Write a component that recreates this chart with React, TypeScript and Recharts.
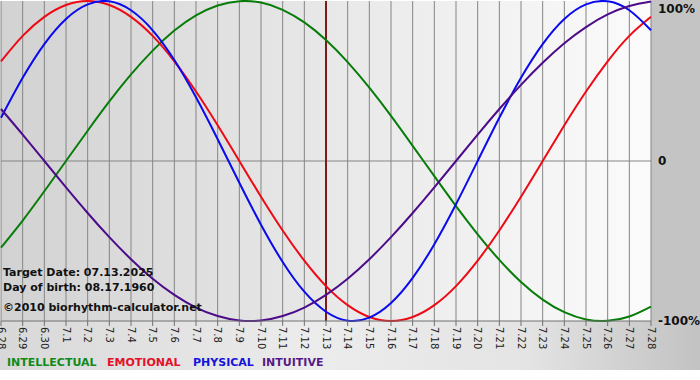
import { LineChart, Line, XAxis, YAxis, CartesianGrid, ReferenceLine } from "recharts";

const dayLabels = [
  "6.28", "6.29", "6.30", "7.1", "7.2", "7.3", "7.4", "7.5", "7.6", "7.7",
  "7.8", "7.9", "7.10", "7.11", "7.12", "7.13", "7.14", "7.15", "7.16", "7.17",
  "7.18", "7.19", "7.20", "7.21", "7.22", "7.23", "7.24", "7.25", "7.26", "7.27",
  "7.28",
];

const intellectual = [
  -0.541, -0.372, -0.189, 0, 0.189, 0.372, 0.541, 0.69, 0.815, 0.91,
  0.972, 0.999, 0.99, 0.945, 0.866, 0.756, 0.618, 0.458, 0.282, 0.095,
  -0.095, -0.282, -0.458, -0.618, -0.756, -0.866, -0.945, -0.99, -0.999, -0.972,
  -0.91,
];
const emotional = [
  0.623, 0.782, 0.901, 0.975, 1, 0.975, 0.901, 0.782, 0.623, 0.434,
  0.223, 0, -0.223, -0.434, -0.623, -0.782, -0.901, -0.975, -1, -0.975,
  -0.901, -0.782, -0.623, -0.434, -0.223, 0, 0.223, 0.434, 0.623, 0.782,
  0.901,
];
const physical = [
  0.27, 0.52, 0.731, 0.888, 0.979, 0.998, 0.942, 0.817, 0.631, 0.398,
  0.136, -0.136, -0.398, -0.631, -0.817, -0.942, -0.998, -0.979, -0.888, -0.731,
  -0.52, -0.27, 0, 0.27, 0.52, 0.731, 0.888, 0.979, 0.998, 0.942,
  0.817,
];
const intuitive = [
  0.325, 0.165, 0, -0.165, -0.325, -0.476, -0.614, -0.736, -0.837, -0.916,
  -0.969, -0.997, -0.997, -0.969, -0.916, -0.837, -0.736, -0.614, -0.476, -0.325,
  -0.165, 0, 0.165, 0.325, 0.476, 0.614, 0.736, 0.837, 0.916, 0.969,
  0.997,
];

const pctTicks = [-1, 0, 1];
const pctLabels: Record<string, string> = { "-1": "-100%", "0": "0", "1": "100%" };
const targetDay = 15;

const series = [
  { key: "intellectual", name: "INTELLECTUAL", color: "#087c08", text: "#108a18", x: 7 },
  { key: "emotional", name: "EMOTIONAL", color: "#ee0a14", text: "#e4102a", x: 107 },
  { key: "physical", name: "PHYSICAL", color: "#0a0aee", text: "#1414dc", x: 193 },
  { key: "intuitive", name: "INTUITIVE", color: "#4c0c8a", text: "#561a86", x: 262 },
];

const data = dayLabels.map((label, i) => ({
  i,
  label,
  intellectual: intellectual[i],
  emotional: emotional[i],
  physical: physical[i],
  intuitive: intuitive[i],
}));

const font = "'DejaVu Sans', Verdana, sans-serif";

function DayTick({ x, y, payload }: any) {
  return (
    <text
      x={x}
      y={y}
      dy="0.35em"
      transform={`rotate(90, ${x}, ${y})`}
      textAnchor="start"
      fontFamily={font}
      fontSize={10}
      fill="#222"
    >
      {dayLabels[payload.value]}
    </text>
  );
}

function PctTick({ x, y, payload }: any) {
  const ty = Math.min(Math.max(y, 7), 322);
  return (
    <text
      x={x}
      y={ty}
      dy="0.36em"
      textAnchor="start"
      fontFamily={font}
      fontWeight="bold"
      fontSize={12}
      fill="#111"
    >
      {pctLabels[String(payload.value)]}
    </text>
  );
}

export default function App() {
  return (
    <div style={{ position: "absolute", left: 0, top: 0, width: 700, height: 380, background: "#fff" }}>
      <div
        style={{
          position: "absolute",
          left: 0,
          top: 321,
          width: 700,
          height: 49,
          background: "linear-gradient(to right, #d8d8d8 0%, #ececec 45%, #e4e4e4 75%, #c2c2c2 100%)",
        }}
      />
      <div style={{ position: "absolute", left: 651, top: 0, width: 49, height: 321, background: "#c4c4c4" }} />
      <div style={{ position: "absolute", left: 0, top: 0 }}>
        <LineChart width={700} height={380} data={data} margin={{ top: 1, right: 0, bottom: 0, left: 1 }}>
          <defs>
            <linearGradient id="plotBg" x1="0" y1="0" x2="1" y2="0">
              <stop offset="0%" stopColor="#d2d2d2" />
              <stop offset="50%" stopColor="#e8e8e8" />
              <stop offset="100%" stopColor="#fbfbfb" />
            </linearGradient>
          </defs>
          <CartesianGrid horizontal={false} stroke="#858585" fill="url(#plotBg)" fillOpacity={1} />
          <XAxis
            dataKey="i"
            type="number"
            domain={[0, 30]}
            ticks={dayLabels.map((_, i) => i)}
            interval={0}
            height={59}
            tickSize={5}
            tickMargin={1}
            stroke="#707070"
            tick={<DayTick />}
          />
          <YAxis
            orientation="right"
            domain={[-1, 1]}
            ticks={pctTicks}
            width={49}
            axisLine={false}
            tickLine={false}
            tickSize={0}
            tickMargin={7}
            tick={<PctTick />}
          />
          <ReferenceLine y={0} stroke="#858585" />
          <ReferenceLine x={targetDay} stroke="#7e1a1a" strokeWidth={2} />
          {series.map((s) => (
            <Line
              key={s.key}
              dataKey={s.key}
              type="natural"
              stroke={s.color}
              strokeWidth={2}
              dot={false}
              activeDot={false}
              isAnimationActive={false}
            />
          ))}
        </LineChart>
      </div>
      <svg width={700} height={380} style={{ position: "absolute", left: 0, top: 0, pointerEvents: "none" }}>
        <g fontFamily={font} fontWeight="bold" fontSize={11} fill="#111">
          <text x={3} y={276}>Target Date: 07.13.2025</text>
          <text x={3} y={291}>Day of birth: 08.17.1960</text>
          <text x={3} y={311}>©2010 biorhythm-calculator.net</text>
        </g>
        <g fontFamily={font} fontWeight="bold" fontSize={11}>
          {series.map((s) => (
            <text key={s.key} x={s.x} y={366} fill={s.text}>
              {s.name}
            </text>
          ))}
        </g>
      </svg>
    </div>
  );
}
